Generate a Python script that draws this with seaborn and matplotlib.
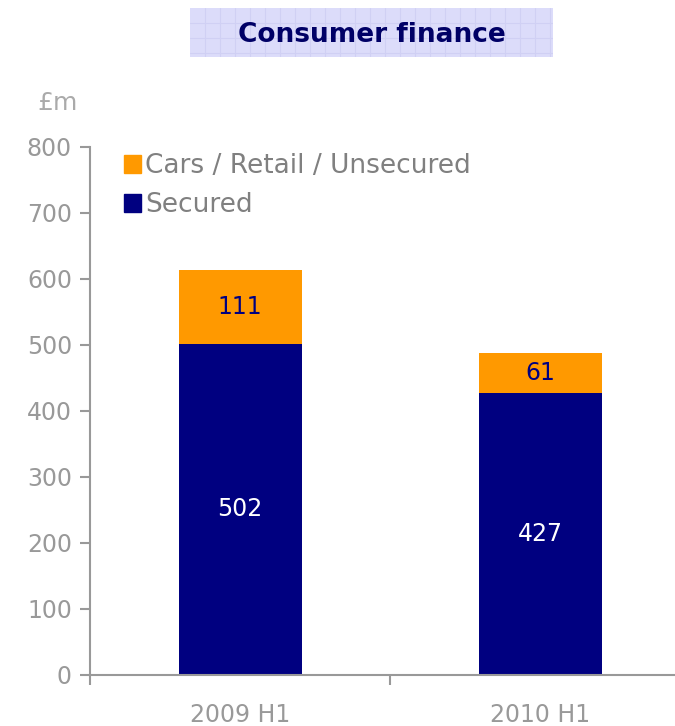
import numpy as np
import pandas as pd
import matplotlib
matplotlib.use("Agg")
import matplotlib.pyplot as plt
import matplotlib.patches as mpatches
import seaborn as sns

# data
periods = ["2009 H1", "2010 H1"]
secured = [502, 427]
cars_retail = [111, 61]
series_names = ["Cars / Retail / Unsecured", "Secured"]

NAVY = "#000080"
ORANGE = "#FF9900"
GREY = "#999999"

sns.set_theme(style="white")
plt.rcParams["font.family"] = ["DejaVu Sans"]

df = pd.DataFrame({"period": periods, "secured": secured, "cars": cars_retail})
df["total"] = df["secured"] + df["cars"]

fig = plt.figure(figsize=(6.75, 7.26), dpi=100)
ax = fig.add_axes([90 / 675, 1 - 675 / 726, 600 / 675, (675 - 147) / 726])

#stacked bars: total in orange, secured painted on top
sns.barplot(data=df, x="period", y="total", color=ORANGE, width=0.41, saturation=1,
            linewidth=0, ax=ax)
sns.barplot(data=df, x="period", y="secured", color=NAVY, width=0.41, saturation=1,
            linewidth=0, ax=ax)

ax.set_ylim(0, 800)
ax.set_xlim(-0.5, 1.5)
ax.set_yticks(range(0, 801, 100))
ax.set_xlabel("")
ax.set_ylabel("")
for s in ["top", "right"]:
    ax.spines[s].set_visible(False)
for s in ["left", "bottom"]:
    ax.spines[s].set_color(GREY)
    ax.spines[s].set_linewidth(1.5)
ax.tick_params(axis="y", which="major", left=True, length=7, width=1.5, color=GREY,
               labelcolor=GREY, labelsize=17, pad=6)
ax.tick_params(axis="x", which="major", length=0, labelcolor=GREY, labelsize=17, pad=20)
ax.set_xticks([-0.5, 0.5, 1.5], minor=True)
ax.tick_params(axis="x", which="minor", bottom=True, length=7, width=1.5, color=GREY)

#value labels
for i in range(len(periods)):
    ax.text(i, secured[i] / 2, str(secured[i]), ha="center", va="center",
            color="white", fontsize=17)
    ax.text(i, secured[i] + cars_retail[i] / 2, str(cars_retail[i]), ha="center",
            va="center", color=NAVY, fontsize=17)

handles = [mpatches.Patch(color=ORANGE), mpatches.Patch(color=NAVY)]
fig.legend(handles, series_names, loc="upper left",
           bbox_to_anchor=(124 / 675, 1 - 153 / 726), frameon=False, fontsize=19,
           handlelength=0.65, handleheight=0.65, handletextpad=0.15,
           labelspacing=0.5, borderpad=0, borderaxespad=0, labelcolor="#808080")

fig.text(58 / 675, 1 - 103 / 726, "£m", ha="center", va="center", color="#AAAAAA", fontsize=18)

#title box with faint grid
tax = fig.add_axes([190 / 675, 1 - 57 / 726, 363 / 675, 49 / 726])
tax.set_facecolor("#DCDCFA")
tax.set_xlim(0, 363)
tax.set_ylim(0, 49)
tax.set_xticks(np.arange(15, 363, 15))
tax.set_yticks(np.arange(4, 49, 15))
tax.grid(True, color="#D0D0F4", linewidth=0.8)
tax.tick_params(length=0, labelbottom=False, labelleft=False)
for s in tax.spines.values():
    s.set_visible(False)
tax.text(181.5, 22, "Consumer finance", ha="center", va="center",
         color="#000066", fontsize=19, fontweight="bold")

fig.savefig("out.png", dpi=100)
